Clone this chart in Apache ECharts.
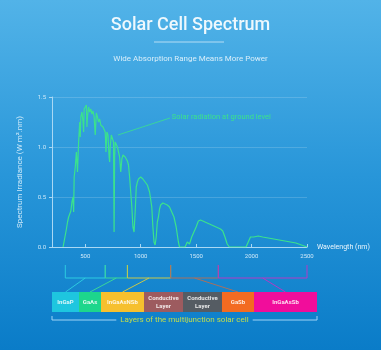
<!DOCTYPE html>
<html>
<head>
<meta charset="utf-8">
<script src="https://cdn.jsdelivr.net/npm/echarts@6/dist/echarts.min.js"></script>
<style>
html, body { margin: 0; padding: 0; }
#chart { width: 381px; height: 350px; }
</style>
</head>
<body>
<div id="chart"></div>
<script>
// spectrum (nm, W m^-2 nm^-1)
var wavelength = [300, 310, 320, 330, 340, 350, 360, 370, 380, 390, 395, 400, 410, 420, 430, 440, 450, 455, 460, 470, 480,
    485, 490, 500, 510, 515, 520, 530, 540, 550, 560, 570, 580, 590, 600, 610, 620, 630, 640, 650, 660, 670, 680,
    687, 695, 705, 715, 720, 725, 735, 745, 755, 760, 765, 770, 780, 790, 800, 810, 820, 830, 840, 850,
    860, 870, 880, 890, 900, 910, 920, 930, 940, 950, 960, 970, 980, 990, 1000, 1020, 1040, 1060, 1080, 1100,
    1110, 1120, 1130, 1140, 1150, 1160, 1170, 1180, 1200, 1220, 1240, 1260, 1280, 1300, 1320, 1340, 1350, 1400, 1420, 1440,
    1460, 1480, 1500, 1520, 1540, 1560, 1580, 1600, 1620, 1640, 1660, 1680, 1700, 1720, 1740, 1760, 1780, 1800, 1950, 1970,
    1990, 2000, 2020, 2060, 2100, 2150, 2200, 2250, 2300, 2350, 2400, 2450, 2500];
var irradiance = [0, 0.02, 0.12, 0.18, 0.25, 0.3, 0.33, 0.36, 0.45, 0.5, 0.35, 0.7, 0.8, 0.95, 0.75, 1.05, 1.25, 1.1, 1.3, 1.35, 1.25,
    1.15, 1.38, 1.36, 1.42, 1.2, 1.3, 1.4, 1.35, 1.38, 1.33, 1.36, 1.3, 1.12, 1.34, 1.3, 1.25, 1.28, 1.22, 1.24, 1.2, 1.22, 1.15,
    0.95, 1.15, 1.12, 0.9, 0.85, 1.0, 1.12, 1.1, 1.05, 0.15, 0.9, 1.05, 1.05, 1.0, 0.98, 0.9, 0.75, 0.88, 0.92, 0.93,
    0.9, 0.88, 0.86, 0.82, 0.7, 0.55, 0.4, 0.2, 0.15, 0.35, 0.6, 0.65, 0.68, 0.7, 0.7, 0.68, 0.65, 0.62, 0.55, 0.4,
    0.2, 0.05, 0.02, 0.1, 0.25, 0.3, 0.38, 0.42, 0.44, 0.43, 0.42, 0.4, 0.35, 0.3, 0.2, 0.05, 0, 0, 0.05, 0.03,
    0.1, 0.15, 0.2, 0.26, 0.27, 0.26, 0.25, 0.24, 0.23, 0.22, 0.21, 0.2, 0.19, 0.18, 0.16, 0.1, 0.03, 0, 0, 0.05,
    0.1, 0.08, 0.1, 0.11, 0.1, 0.09, 0.08, 0.07, 0.06, 0.05, 0.04, 0.02, 0];
var xTicks = [500, 1000, 1500, 2000, 2500];

// absorption bands of the cell layers (nm) and the layer each one feeds
var bandStart = [320, 680, 880, 1270, 1700];
var bandEnd = [680, 880, 1270, 1700, 2500];
var bandLayer = [0, 1, 2, 5, 6];
var bandColors = ['#2ccbe0', '#3ad79a', '#c9c84a', '#a8705e', '#b23ac6'];

// layer stack
var layerNames = ['InGaP', 'GaAs', 'InGaAsNSb', 'Conductive\nLayer', 'Conductive\nLayer', 'GaSb', 'InGaAsSb'];
var layerWidths = [27, 22, 43, 39, 39, 32, 63];
var layerColors = ['#1ec6df', '#1dd68c', '#f6c02e', '#9d5b5f', '#555c63', '#f36b21', '#f10d9b'];

var chart = echarts.init(document.getElementById('chart'));

var spectrum = [];
for (var i = 0; i < wavelength.length; i++) {
    spectrum.push([wavelength[i], irradiance[i]]);
}

var bands = [];
for (var b = 0; b < bandStart.length; b++) {
    bands.push([bandStart[b], bandEnd[b], b]);
}

var layers = [];
var pos = 0;
for (var k = 0; k < layerWidths.length; k++) {
    layers.push([pos, pos + layerWidths[k], k]);
    pos += layerWidths[k];
}
var layerTotal = pos;

var axisColor = '#a9d8f4';
var font = 'Roboto';

var option = {
    backgroundColor: {
        type: 'linear', x: 0, y: 0, x2: 0, y2: 1,
        colorStops: [
            { offset: 0, color: '#52b3e8' },
            { offset: 0.5, color: '#2896d9' },
            { offset: 1, color: '#0a7cc8' }
        ]
    },
    textStyle: { fontFamily: font },
    title: [
        {
            text: 'Solar Cell Spectrum',
            left: 'center',
            top: 11,
            textStyle: { color: '#eef8fd', fontSize: 18, fontWeight: 500, fontFamily: font }
        },
        {
            text: 'Wide Absorption Range Means More Power',
            left: 'center',
            top: 50,
            textStyle: { color: '#d8eefa', fontSize: 8, fontWeight: 'normal', fontFamily: font }
        }
    ],
    grid: [
        { left: 52, right: 74, top: 97, bottom: 103 },
        { left: 52, right: 74, top: 265, height: 13 },
        { left: 52, right: 64, top: 292, height: 20 }
    ],
    xAxis: [
        {
            type: 'value',
            gridIndex: 0,
            min: 200,
            max: 2500,
            name: 'Wavelength (nm)',
            nameLocation: 'end',
            nameGap: 10,
            nameTextStyle: { color: '#eaf6fd', fontSize: 7 },
            axisLine: { lineStyle: { color: axisColor } },
            axisTick: { show: true, inside: true, length: 3, customValues: xTicks, lineStyle: { color: axisColor } },
            axisLabel: {
                customValues: xTicks, color: '#cfe9f9', fontSize: 6, margin: 6,
                formatter: function (v) { return String(v); }
            },
            splitLine: { show: false }
        },
        { type: 'value', gridIndex: 1, min: 200, max: 2500, show: false },
        { type: 'value', gridIndex: 2, min: 0, max: layerTotal, show: false }
    ],
    yAxis: [
        {
            type: 'value',
            gridIndex: 0,
            min: 0,
            max: 1.5,
            interval: 0.5,
            name: 'Spectrum Irradiance (W m\u00b2.nm)',
            nameLocation: 'middle',
            nameGap: 28,
            nameTextStyle: { color: '#cde9f9', fontSize: 8 },
            axisLine: { show: true, lineStyle: { color: axisColor } },
            axisTick: { show: true, length: 3, lineStyle: { color: axisColor } },
            axisLabel: {
                color: '#cfe9f9', fontSize: 6, margin: 6,
                formatter: function (v) { return v.toFixed(1); }
            },
            splitLine: { lineStyle: { color: 'rgba(255,255,255,0.16)' } }
        },
        { type: 'value', gridIndex: 1, min: 0, max: 1, show: false },
        { type: 'value', gridIndex: 2, min: 0, max: 1, show: false }
    ],
    series: [
        {
            name: 'Solar radiation at ground level',
            type: 'line',
            xAxisIndex: 0,
            yAxisIndex: 0,
            data: spectrum,
            showSymbol: false,
            lineStyle: { color: '#3be28c', width: 1.2 },
            animation: false,
            markLine: {
                silent: true,
                symbol: 'none',
                lineStyle: { color: '#3be28c', width: 0.8, type: 'solid' },
                label: {
                    show: true,
                    position: 'end',
                    distance: 2,
                    color: '#3be28c',
                    fontSize: 7.5,
                    formatter: 'Solar radiation at ground level'
                },
                data: [[{ coord: [795, 1.12] }, { coord: [1264, 1.29] }]]
            }
        },
        {
            type: 'custom',
            xAxisIndex: 1,
            yAxisIndex: 1,
            data: bands,
            animation: false,
            silent: true,
            renderItem: function (params, api) {
                var s = api.coord([api.value(0), 1]);
                var e = api.coord([api.value(1), 0]);
                return {
                    type: 'polyline',
                    shape: { points: [[s[0], s[1]], [s[0], e[1]], [e[0], e[1]], [e[0], s[1]]] },
                    style: { stroke: bandColors[api.value(2)], lineWidth: 1, fill: null }
                };
            }
        },
        {
            type: 'custom',
            xAxisIndex: 2,
            yAxisIndex: 2,
            data: layers,
            animation: false,
            silent: true,
            renderItem: function (params, api) {
                var idx = api.value(2);
                var a = api.coord([api.value(0), 1]);
                var c = api.coord([api.value(1), 0]);
                return {
                    type: 'group',
                    children: [
                        {
                            type: 'rect',
                            shape: { x: a[0], y: a[1], width: c[0] - a[0], height: c[1] - a[1] },
                            style: { fill: layerColors[idx] }
                        },
                        {
                            type: 'text',
                            style: {
                                text: layerNames[idx],
                                x: (a[0] + c[0]) / 2,
                                y: (a[1] + c[1]) / 2,
                                align: 'center',
                                verticalAlign: 'middle',
                                fill: 'rgba(255,255,255,0.85)',
                                fontSize: 6,
                                fontWeight: 'bold',
                                fontFamily: font,
                                lineHeight: 8
                            }
                        }
                    ]
                };
            }
        }
    ]
};

chart.setOption(option);

// decorations tied to the axes above
var graphics = [
    { type: 'line', shape: { x1: 154, y1: 42, x2: 224, y2: 42 }, style: { stroke: 'rgba(255,255,255,0.6)', lineWidth: 1 } }
];

var bandBottom = chart.convertToPixel({ yAxisIndex: 1 }, 0);
var boxTop = chart.convertToPixel({ yAxisIndex: 2 }, 1);
var boxBottom = chart.convertToPixel({ yAxisIndex: 2 }, 0);
for (var d = 0; d < bands.length; d++) {
    var mid = chart.convertToPixel({ xAxisIndex: 1 }, (bandStart[d] + bandEnd[d]) / 2);
    var lay = layers[bandLayer[d]];
    var boxMid = chart.convertToPixel({ xAxisIndex: 2 }, (lay[0] + lay[1]) / 2);
    graphics.push({
        type: 'line',
        shape: { x1: mid, y1: bandBottom, x2: boxMid, y2: boxTop },
        style: { stroke: bandColors[d], lineWidth: 1 }
    });
}

var left = chart.convertToPixel({ xAxisIndex: 2 }, 0);
var right = chart.convertToPixel({ xAxisIndex: 2 }, layerTotal);
var by = boxBottom + 8;
var caption = 'Layers of the multijunction solar cell';
var ctx = document.createElement('canvas').getContext('2d');
ctx.font = '8px ' + font;
var tw = ctx.measureText(caption).width;
var cx = (left + right) / 2;
graphics.push({
    type: 'polyline',
    shape: { points: [[left, by - 4], [left, by], [cx - tw / 2 - 4, by]] },
    style: { stroke: '#9fd3f5', lineWidth: 1, fill: null }
});
graphics.push({
    type: 'polyline',
    shape: { points: [[cx + tw / 2 + 4, by], [right, by], [right, by - 4]] },
    style: { stroke: '#9fd3f5', lineWidth: 1, fill: null }
});
graphics.push({
    type: 'text',
    style: {
        text: caption, x: cx, y: by, align: 'center', verticalAlign: 'middle',
        fill: '#c3dd4b', fontSize: 8, fontFamily: font
    }
});

chart.setOption({ graphic: graphics });
</script>
</body>
</html>
